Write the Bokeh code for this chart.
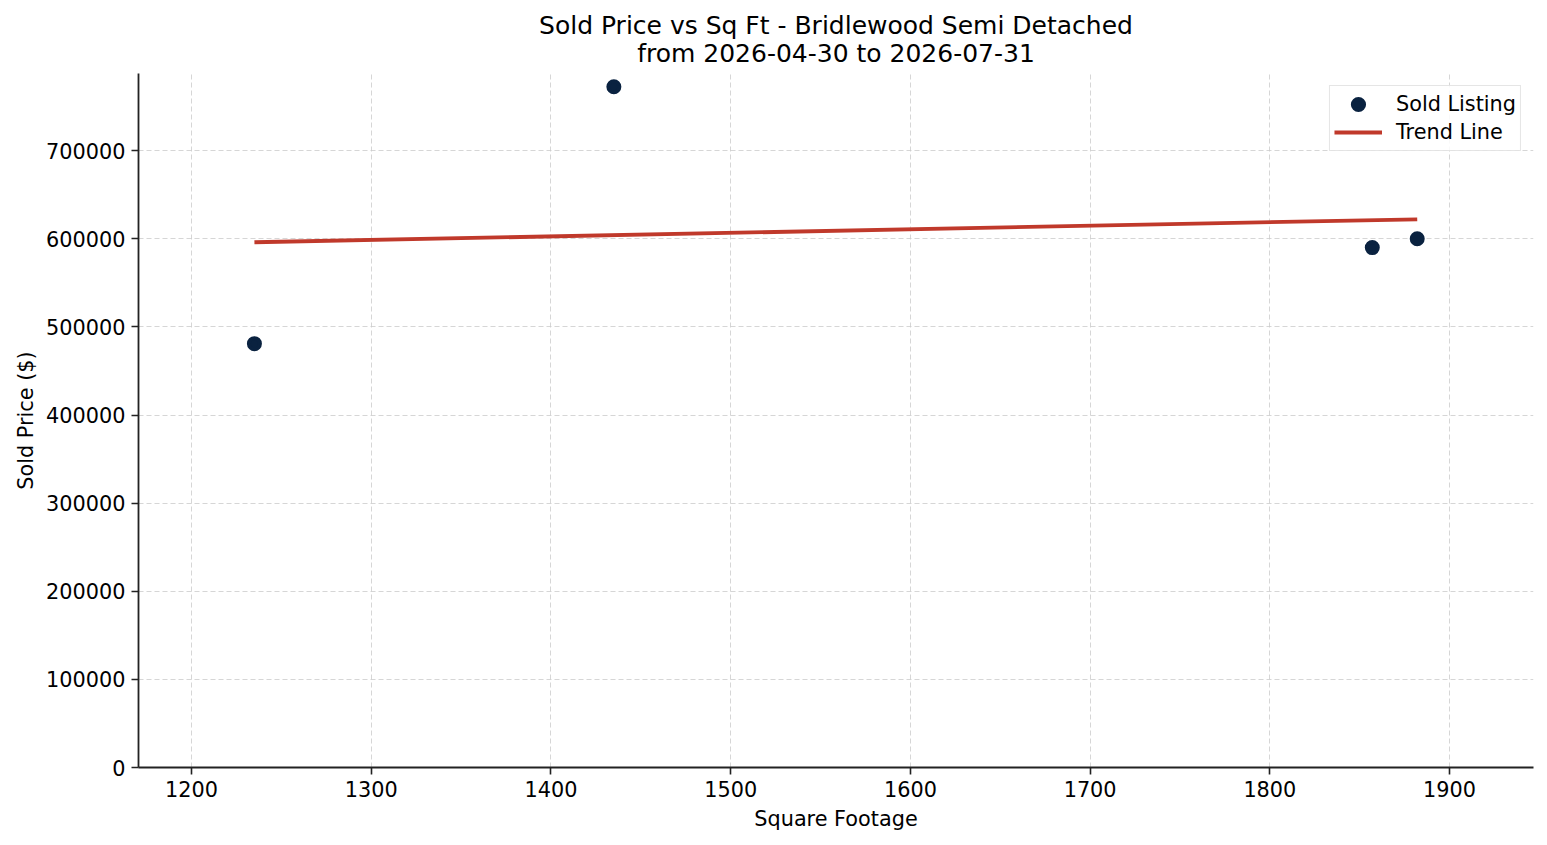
import numpy as np
from bokeh.plotting import figure
from bokeh.models import Range1d, FixedTicker, NumeralTickFormatter, Legend, Title
from bokeh.embed import file_html
from bokeh.resources import INLINE

# ---- data ----
sqft = [1235, 1435, 1857, 1882]
sold_price = [481000, 772500, 590000, 600000]
x_ticks = [1200, 1300, 1400, 1500, 1600, 1700, 1800, 1900]
y_ticks = [0, 100000, 200000, 300000, 400000, 500000, 600000, 700000]
title_line1 = "Sold Price vs Sq Ft - Bridlewood Semi Detached"
title_line2 = "from 2026-04-30 to 2026-07-31"

# trend line from a least-squares fit of the listings
slope, intercept = np.polyfit(sqft, sold_price, 1)
trend_x = [min(sqft), max(sqft)]
trend_y = [slope * v + intercept for v in trend_x]

FONT = "DejaVu Sans"
NAVY = "#0a2240"
RED = "#c0392b"
FS = "20.8px"

p = figure(
    width=1541, height=840,
    output_backend="svg", toolbar_location=None,
    x_range=Range1d(1170.5, 1946.7), y_range=Range1d(0, 787600),
    min_border_left=138, min_border_right=8, min_border_top=73, min_border_bottom=73,
)

# two centred title lines: p.title is the outer (top) line, the added Title sits next to the plot
p.title.text = title_line1
p.title.align = "center"
p.title.text_font = FONT
p.title.text_font_size = "25px"
p.title.text_font_style = "normal"
p.title.text_color = "#000000"
p.title.standoff = -16
t2 = Title(text=title_line2, align="center", text_font=FONT, text_font_size="25px",
           text_font_style="normal", text_color="#000000", standoff=11)
p.add_layout(t2, "above")

p.outline_line_color = None
p.background_fill_color = "white"
p.border_fill_color = "white"

sc = p.scatter(sqft, sold_price, size=11, fill_color=NAVY, line_color=NAVY, line_width=4)
ln = p.line(trend_x, trend_y, line_width=3.8, color=RED)

for ax in (p.xaxis[0], p.yaxis[0]):
    ax.axis_line_color = "#222222"
    ax.axis_line_width = 1.8
    ax.major_tick_line_color = "#222222"
    ax.major_tick_line_width = 1.6
    ax.major_tick_out = 7
    ax.major_tick_in = 0
    ax.minor_tick_out = 0
    ax.minor_tick_in = 0
    ax.major_label_text_font = FONT
    ax.major_label_text_font_size = FS
    ax.major_label_text_color = "#000000"
    ax.major_label_standoff = 6
    ax.axis_label_text_font = FONT
    ax.axis_label_text_font_size = FS
    ax.axis_label_text_font_style = "normal"
    ax.axis_label_text_color = "#000000"

p.xaxis[0].ticker = FixedTicker(ticks=x_ticks)
p.yaxis[0].ticker = FixedTicker(ticks=y_ticks)
p.yaxis[0].formatter = NumeralTickFormatter(format="0")
p.xaxis[0].axis_label = "Square Footage"
p.yaxis[0].axis_label = "Sold Price ($)"
p.xaxis[0].axis_label_standoff = 7
p.yaxis[0].axis_label_standoff = 5

for g in (p.xgrid[0], p.ygrid[0]):
    g.grid_line_color = "#cccccc"
    g.grid_line_alpha = 0.8
    g.grid_line_width = 1
    g.grid_line_dash = "5 3"

legend = Legend(
    items=[("Sold Listing", [sc]), ("Trend Line", [ln])],
    location="top_right",
    margin=12,
    padding=4,
    spacing=0,
    label_height=28,
    glyph_height=28,
    glyph_width=48,
    label_standoff=14,
    label_text_font=FONT,
    label_text_font_size=FS,
    label_text_color="#000000",
    border_line_color="#cccccc",
    border_line_width=1.5,
    background_fill_color="white",
    background_fill_alpha=0.85,
)
p.add_layout(legend)

with open("out.html", "w") as f:
    f.write(file_html(p, INLINE))
